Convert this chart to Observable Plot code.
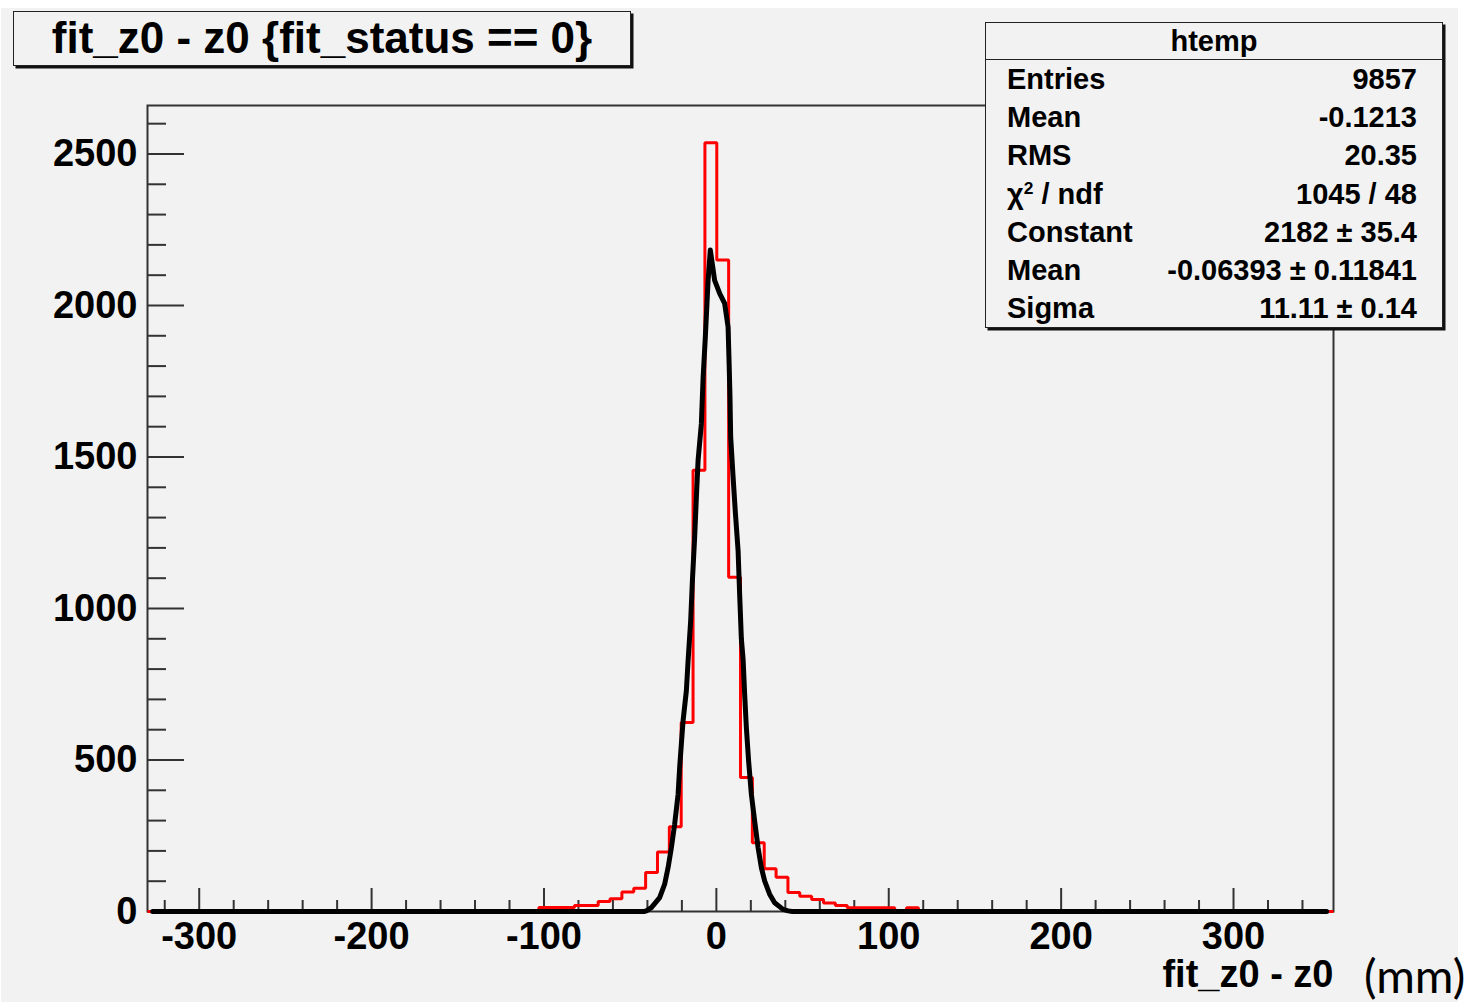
<!DOCTYPE html>
<html>
<head>
<meta charset="utf-8">
<script src="https://cdn.jsdelivr.net/npm/d3@7"></script>
<script src="https://cdn.jsdelivr.net/npm/@observablehq/plot@0.6"></script>
<style>
html, body { margin: 0; padding: 0; background: #ffffff; }
#wrap { position: relative; width: 1470px; height: 1002px; overflow: hidden;
  font-family: "Liberation Sans", Arial, Helvetica, sans-serif; }
#bg { position: absolute; left: 1px; top: 8px; width: 1457px; height: 994px; background: #f2f2f2; }
#chart { position: absolute; left: 0; top: 0; }
.box { position: absolute; background: #f2f2f2; border: 1.5px solid #222; box-sizing: border-box;
  box-shadow: 2.5px 2.5px 0 #111; color: #000; font-weight: bold; }
#title { left: 13px; top: 11px; width: 618px; height: 55px; font-size: 44px; line-height: 52px; text-align: center; }
#stats { left: 985px; top: 22px; width: 458px; height: 306px; font-size: 29px; }
#stats .head { height: 36px; line-height: 36px; text-align: center; border-bottom: 1.5px solid #222; }
#stats .row { display: flex; justify-content: space-between; align-items: center; height: 38.3px;
  padding: 0 25px 0 21px; white-space: nowrap; }
#stats sup { font-size: 0.6em; vertical-align: 0.55em; line-height: 0; }
#unit { position: absolute; left: 1364px; top: 946px; font-family: Lato, "Noto Sans", sans-serif;
  font-weight: normal; font-size: 47px; line-height: 58px; color: #000; }
</style>
</head>
<body>
<div id="wrap">
  <div id="bg"></div>
  <div id="chart"></div>
  <div id="title" class="box"></div>
  <div id="stats" class="box"></div>
  <div id="unit"></div>
</div>
<script>
// ---- data ----
const titleText = "fit_z0 - z0 {fit_status == 0}";
const xTitle = "fit_z0 - z0";
const unitText = "(mm)";
const histName = "htemp";
const statLabels = ["\u03C7<sup>2</sup> / ndf"];
const statNames = ["Entries", "Mean", "RMS", "chi2", "Constant", "Mean", "Sigma"];
const statValues = ["9857", "-0.1213", "20.35", "1045 / 48", "2182 \u00B1 35.4", "-0.06393 \u00B1 0.11841", "11.11 \u00B1 0.14"];

const binRange = [-330, 358];
const nBins = 100;
const counts = [
  0,0,0,0,0,0,0,0,0,0, 0,0,0,0,0,0,0,0,0,0, 0,0,0,0,0,0,0,0,0,0, 0,0,0,
  13,13,13,20,20,33,42,64,77,129,196,280,624,1456,2537,2150,1103,442,227,141,113,63,50,40,28,20,12,12,12,12,0,12,
  0,0,0,0,0,0,0,0,0,0, 0,0,0,0,0,0,0,0,0,0, 0,0,0,0,0,0,0,0,0,0, 0,0,0,0,0
];

const fitX = [-327, -42, -40.6, -37.7, -32.9, -30.0, -28.0, -26.1, -24.2, -22.2, -21.3, -20.3, -19.3, -17.4, -16.4,
  -14.9, -13.9, -12.6, -11.6, -10.6, -8.7, -7.7, -6.4, -4.8, -3.5, -1.0, 1.9, 4.8, 6.8, 7.4, 7.9, 8.3, 9.7, 11.0,
  12.6, 13.5, 14.5, 15.5, 16.4, 17.4, 18.7, 20.3, 22.2, 24.2, 26.1, 28.0, 30.9, 33.8, 38.7, 41.6, 44, 354];
const fitY = [0, 0, 2, 13, 46, 90, 145, 211, 288, 387, 475, 553, 630, 729, 828,
  960, 1092, 1235, 1367, 1489, 1610, 1760, 1896, 2083, 2183, 2083, 2040, 2007, 1929, 1808, 1698, 1566, 1434, 1318,
  1191, 1048, 900, 833, 718, 607, 497, 387, 299, 211, 145, 101, 57, 29, 7, 2, 0, 0];

const xMajorTicks = [-300, -200, -100, 0, 100, 200, 300];
const xMinorTicks = [-320, -280, -260, -240, -220, -180, -160, -140, -120, -80, -60, -40, -20,
  20, 40, 60, 80, 120, 140, 160, 180, 220, 240, 260, 280, 320, 340];
const yMajorTicks = [0, 500, 1000, 1500, 2000, 2500];
const yMinorTicks = [100, 200, 300, 400, 600, 700, 800, 900, 1100, 1200, 1300, 1400, 1600, 1700, 1800, 1900,
  2100, 2200, 2300, 2400, 2600];
const yDomain = [0, 2660];

// ---- build tables ----
const binW = (binRange[1] - binRange[0]) / nBins;
const histPts = counts.map((c, i) => ({x: binRange[0] + i * binW, y: c}));
histPts.push({x: binRange[1], y: counts[nBins - 1]});
const fitPts = fitX.map((x, i) => ({x, y: fitY[i]}));

const axisColor = "#333";
const fmt = d => String(d);

const chart = Plot.plot({
  width: 1470,
  height: 1002,
  marginLeft: 147,
  marginRight: 137,
  marginTop: 105,
  marginBottom: 91,
  x: {domain: binRange},
  y: {domain: yDomain},
  style: {background: "transparent", fontFamily: "'Liberation Sans', Arial, Helvetica, sans-serif",
    fontSize: "38px", fontWeight: "bold", color: "#000", overflow: "visible"},
  marks: [
    Plot.frame({stroke: axisColor, strokeWidth: 2}),
    Plot.axisY(yMinorTicks, {anchor: "left", tickSize: 19, dx: 19, tickFormat: () => "", stroke: axisColor, strokeWidth: 2, label: null}),
    Plot.axisY(yMajorTicks, {anchor: "left", tickSize: 37, dx: 37, tickFormat: () => "", stroke: axisColor, strokeWidth: 2, label: null}),
    Plot.axisY(yMajorTicks, {anchor: "left", tickSize: 0, tickPadding: 10, tickFormat: fmt, fontSize: 38, fontWeight: "bold", fill: "#000", label: null}),
    Plot.axisX(xMinorTicks, {anchor: "bottom", tickSize: 11, dy: -11, tickFormat: () => "", stroke: axisColor, strokeWidth: 2, label: null}),
    Plot.axisX(xMajorTicks, {anchor: "bottom", tickSize: 23, dy: -23, tickFormat: () => "", stroke: axisColor, strokeWidth: 2, label: null}),
    Plot.axisX(xMajorTicks, {anchor: "bottom", tickSize: 0, tickPadding: 11, tickFormat: fmt, fontSize: 38, fontWeight: "bold", fill: "#000", label: null}),
    Plot.line(histPts, {x: "x", y: "y", curve: "step-after", stroke: "#ff0000", strokeWidth: 3, strokeLinejoin: "miter", strokeLinecap: "butt"}),
    Plot.line(fitPts, {x: "x", y: "y", stroke: "#000", strokeWidth: 5}),
    Plot.text([xTitle], {text: d => d, frameAnchor: "bottom-right", dy: 75, textAnchor: "end", fontSize: 38, fontWeight: "bold", fill: "#000"})
  ]
});
document.getElementById("chart").appendChild(chart);

// ---- overlays: title box, stats box, unit ----
document.getElementById("title").textContent = titleText;
const stats = document.getElementById("stats");
const head = document.createElement("div");
head.className = "head";
head.textContent = histName;
stats.appendChild(head);
statNames.forEach((lab, i) => {
  const row = document.createElement("div");
  row.className = "row";
  const a = document.createElement("span");
  if (lab === "chi2") a.innerHTML = statLabels[0]; else a.textContent = lab;
  const b = document.createElement("span"); b.textContent = statValues[i];
  row.appendChild(a); row.appendChild(b);
  stats.appendChild(row);
});
document.getElementById("unit").textContent = unitText;
</script>
</body>
</html>
